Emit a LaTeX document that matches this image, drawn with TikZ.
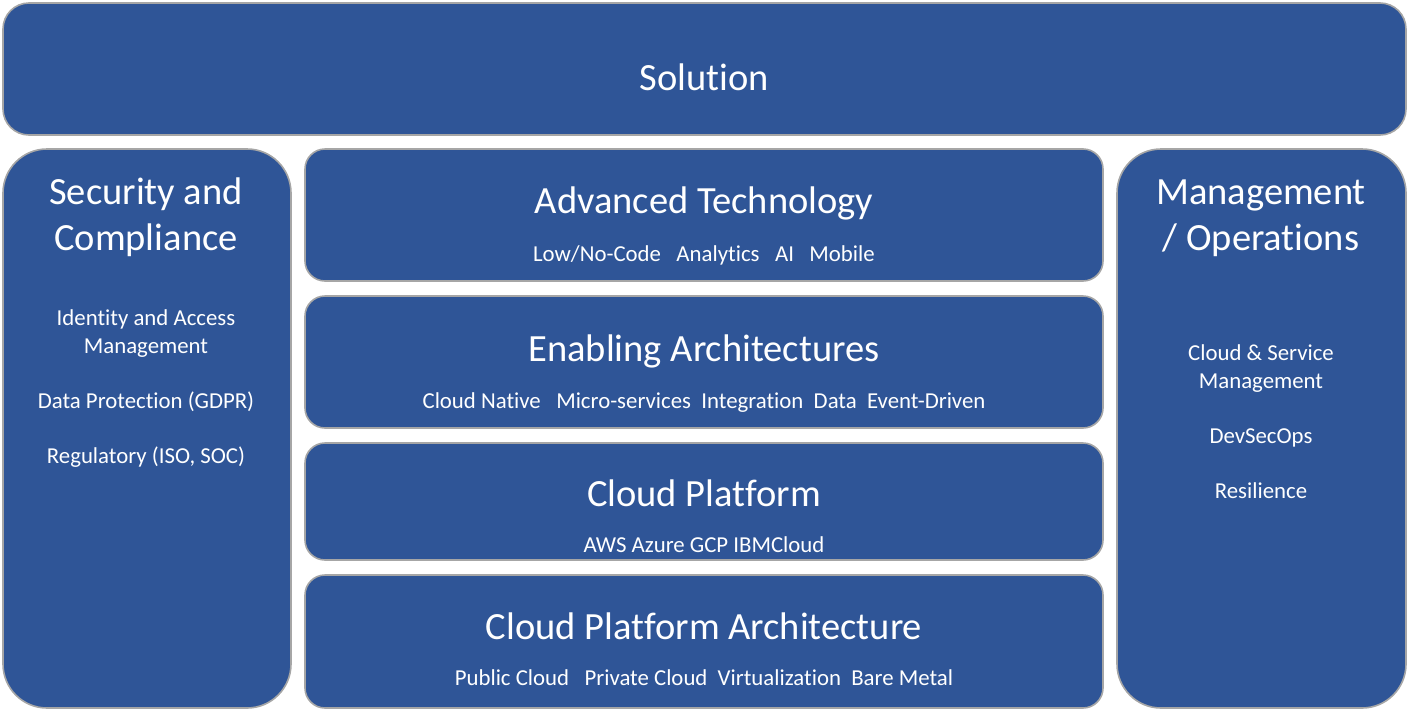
\documentclass[tikz,border=0pt]{standalone}
\usepackage{fontspec}
\setmainfont{Carlito}[Ligatures=NoCommon]
\definecolor{boxblue}{HTML}{2F5597}
\definecolor{boxedge}{HTML}{A6A6A6}
\tikzset{
  box/.style={draw=boxedge, line width=1.6pt, fill=boxblue, inner sep=0pt},
  bigbox/.style={box, rounded corners=26pt},
  sidebox/.style={box, rounded corners=44pt},
  midbox/.style={box, rounded corners=20pt},
  title/.style={text=white, anchor=base, inner sep=0pt, font=\fontsize{38.5}{46}\selectfont, align=center},
  sub/.style={text=white, anchor=base, inner sep=0pt, font=\fontsize{22.8}{27.5}\selectfont, align=center},
}
\begin{document}
\begin{tikzpicture}[x=1pt, y=-1pt]
\useasboundingbox (0,0) rectangle (1408,710);
% boxes
\node[bigbox, minimum width=1403pt, minimum height=132pt] (sol) at (704.5,69) {};
\node[sidebox, minimum width=288pt, minimum height=559pt] (sec) at (147,428.5) {};
\node[sidebox, minimum width=289pt, minimum height=559pt] (mgt) at (1261.5,428.5) {};
\node[midbox, minimum width=798pt, minimum height=132pt] (adv) at (704,215) {};
\node[midbox, minimum width=798pt, minimum height=132pt] (ena) at (704,362) {};
\node[midbox, minimum width=798pt, minimum height=117pt] (cp) at (704,501.5) {};
\node[midbox, minimum width=798pt, minimum height=133pt] (cpa) at (704,641.5) {};
% texts
\node[title] (solt) at (704,90) {Solution};
\node[title] (advt) at (704,213) {Advanced Technology};
\node[sub] (advs) at (704,261) {Low/No-Code\ \ \ Analytics\ \ \ AI\ \ \ Mobile};
\node[title] (enat) at (704,361) {Enabling Architectures};
\node[sub] (enas) at (704,408) {Cloud Native\ \ \ Micro-services\ \ Integration\ \ Data\ \ Event-Driven};
\node[title] (cpt) at (704,506) {Cloud Platform};
\node[sub] (cps) at (704,552) {AWS Azure GCP IBMCloud};
\node[title] (cpat) at (704,639) {Cloud Platform Architecture};
\node[sub] (cpas) at (704,685) {Public Cloud\ \ \ Private Cloud\ \ Virtualization\ \ Bare Metal};
% left column (base anchor = last line)
\node[title] (sect) at (146,250) {Security and\\Compliance};
\node[sub] (sec1) at (146,353) {Identity and Access\\Management};
\node[sub] (sec2) at (146,408) {Data Protection (GDPR)};
\node[sub] (sec3) at (146,463) {Regulatory (ISO, SOC)};
% right column
\node[title] (mgtt) at (1261,250) {Management\\/ Operations};
\node[sub] (mgt1) at (1261,388) {Cloud \& Service\\Management};
\node[sub] (mgt2) at (1261,443) {DevSecOps};
\node[sub] (mgt3) at (1261,498) {Resilience};
\end{tikzpicture}
\end{document}
